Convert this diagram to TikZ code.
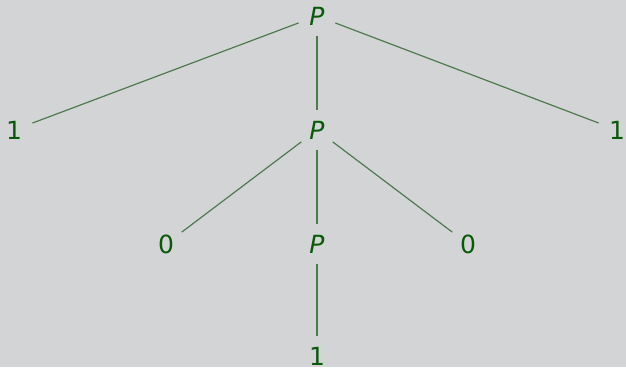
\documentclass[tikz,border=0pt]{standalone}
\usepackage{fontspec}
\setmainfont{DejaVu Sans}
\usepackage{tikz}
\usetikzlibrary{positioning}
\definecolor{bgGrey}{RGB}{211,212,214}
\definecolor{termGreen}{RGB}{8,90,8}
\definecolor{edgeGreen}{RGB}{78,122,78}

\begin{document}
\begin{tikzpicture}[x=1pt,y=-1pt,
    term/.style={circle,minimum size=39pt,inner sep=0pt,text=termGreen,font=\fontsize{25}{29}\selectfont},
    edge/.style={edgeGreen,line width=1.2pt}]
        \fill[bgGrey] (0,0) rectangle (626,367);
        \useasboundingbox (0,0) rectangle (626,367);
        \node[term] (root) at (317,16) {\textit{P}};
        \node[term] (left) at (14,130) {1};
        \node[term] (mid) at (317,130) {\textit{P}};
        \node[term] (right) at (617,130) {1};
        \node[term] (zeroL) at (166,244) {0};
        \node[term] (inner) at (317,244) {\textit{P}};
        \node[term] (zeroR) at (468,244) {0};
        \node[term] (leaf) at (317,356) {1};
        \draw[edge] (root) -- (left);
        \draw[edge] (root) -- (mid);
        \draw[edge] (root) -- (right);
        \draw[edge] (mid) -- (zeroL);
        \draw[edge] (mid) -- (inner);
        \draw[edge] (mid) -- (zeroR);
        \draw[edge] (inner) -- (leaf);
      \end{tikzpicture}
\end{document}
